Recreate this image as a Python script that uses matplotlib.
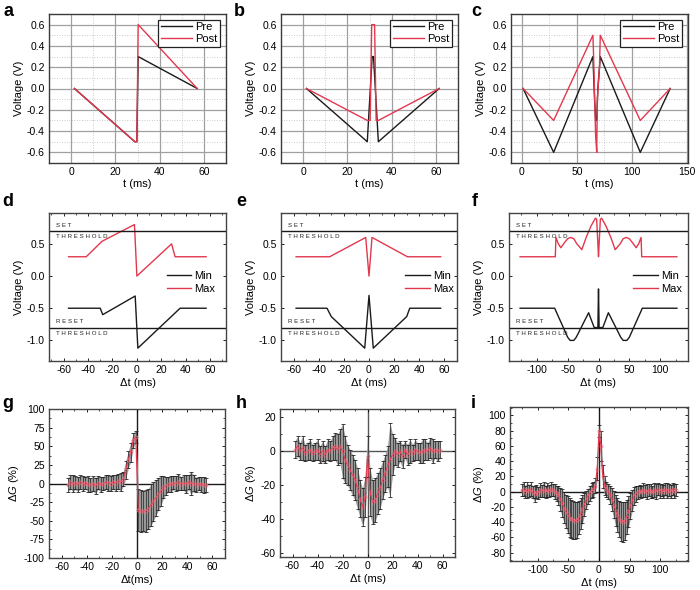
import matplotlib
matplotlib.use('Agg')
import matplotlib.pyplot as plt
from matplotlib.ticker import MultipleLocator, FormatStrFormatter

plt.rcParams['font.family'] = ['Liberation Sans', 'DejaVu Sans']
plt.rcParams['axes.unicode_minus'] = False
plt.rcParams['mathtext.fontset'] = 'custom'
plt.rcParams['mathtext.it'] = 'Liberation Sans:italic'
plt.rcParams['mathtext.rm'] = 'Liberation Sans'

RED = '#e2384d'
BLK = '#1a1a1a'

# ---------------- data: row 1 (pulses) ----------------
a_pre_t = [1.5, 28.8, 29.7, 30.3, 57]
a_pre_v = [0, -0.5, -0.5, 0.3, 0]
a_post_t = [1.5, 28.8, 29.7, 30.3, 57]
a_post_v = [0, -0.5, -0.5, 0.6, 0]

b_pre_t = [1.5, 29, 31.2, 31.8, 34, 61.5]
b_pre_v = [0, -0.5, 0.3, 0.3, -0.5, 0]
b_post_t = [1.5, 29, 30.3, 31, 32.3, 33, 34, 61.5]
b_post_v = [0, -0.3, -0.3, 0.6, 0.6, -0.3, -0.3, 0]

c_pre_t = [1, 28.8, 64.5, 66, 67, 68, 69, 70.5, 71.2, 107.6, 134.8]
c_pre_v = [0, -0.6, 0.3, -0.1, -0.3, -0.3, 0, 0.2, 0.3, -0.6, 0]
c_post_t = [1, 28.8, 64.5, 65, 67, 68, 68.5, 70.5, 71.2, 107.6, 134.8]
c_post_v = [0, -0.3, 0.5, 0.35, -0.45, -0.6, -0.1, 0.2, 0.5, -0.3, 0]

# ---------------- data: row 2 (min / max voltage) ----------------
d_max_t = [-56, -41.5, -28.6, -2, 0, 28.4, 31.3, 56.7]
d_max_v = [0.3, 0.3, 0.54, 0.8, 0.0, 0.5, 0.3, 0.3]
d_min_t = [-56, -30, -28, -1.4, 0.8, 35.4, 56.7]
d_min_v = [-0.5, -0.5, -0.6, -0.31, -1.12, -0.5, -0.5]

e_max_t = [-58, -31.3, -2.6, 0, 2.4, 30.6, 57]
e_max_v = [0.3, 0.3, 0.6, 0.0, 0.6, 0.3, 0.3]
e_min_t = [-58, -33.4, -30, -3.4, 0, 3.4, 30, 32.4, 57]
e_min_v = [-0.5, -0.5, -0.63, -1.12, -0.3, -1.12, -0.63, -0.5, -0.5]

f_max_t = [-127, -70, -69, -65, -61, -55, -50, -45, -40, -35, -27, -20, -12, -5, -3, -1, 0,
           1, 3, 5, 12, 20, 27, 35, 40, 45, 50, 55, 61, 65, 69, 70, 127]
f_max_v = [0.3, 0.3, 0.6, 0.5, 0.44, 0.52, 0.58, 0.6, 0.58, 0.5, 0.41, 0.6, 0.78, 0.9, 0.88, 0.5, 0.3,
           0.5, 0.88, 0.9, 0.78, 0.6, 0.41, 0.5, 0.58, 0.6, 0.58, 0.52, 0.44, 0.5, 0.6, 0.3, 0.3]
f_min_t = [-127, -71, -50, -46, -40, -36, -16, -7, -1, 0, 1, 7, 16, 36, 40, 46, 50, 71, 127]
f_min_v = [-0.5, -0.5, -0.95, -1.0, -1.0, -0.95, -0.57, -0.8, -0.8, -0.2, -0.8, -0.8, -0.57,
           -0.95, -1.0, -1.0, -0.95, -0.5, -0.5]

SET_TH = 0.7
RESET_TH = -0.8

# ---------------- data: row 3 (conductance change) ----------------
g_x = [-55, -53, -51, -49, -47, -45, -43, -41, -39, -37, -35, -33, -31, -29, -27, -25, -23, -21, -19, -17,
       -15, -13, -11, -9, -7, -5, -3, -1, 1, 3, 5, 7, 9, 11, 13, 15, 17, 19, 21, 23, 25, 27, 29, 31,
       33, 35, 37, 39, 41, 43, 45, 47, 49, 51, 53, 55]
g_mean = [-2, 2, 0, 1, -1, 2, 0, 1, -1, -2, 0, -3, 1, -1, 0, 2, 1, 0, 2, 1, 3, 2, 6, 18, 32, 42, 58, 63,
          -36, -37, -37, -37, -34, -29, -24, -19, -14, -10, -5, -3, -1, -1, 1, 0, 2, 0, 1, -1, 2, 0,
          1, -2, 0, -1, -2, -2]
g_err = [10, 9, 11, 9, 10, 9, 10, 8, 11, 9, 10, 11, 9, 10, 9, 10, 11, 10, 9, 11, 10, 12, 10, 12, 11, 13, 10, 8,
         28, 28, 27, 28, 27, 28, 26, 24, 22, 20, 15, 12, 10, 11, 9, 10, 11, 9, 10, 12, 10, 15, 11, 10, 9, 10,
         11, 9]

h_x = [-58, -56, -54, -52, -50, -48, -46, -44, -42, -40, -38, -36, -34, -32, -30, -28, -26, -24, -22, -20,
       -18, -16, -14, -12, -10, -8, -6, -4, -2, 0, 2, 4, 6, 8, 10, 12, 14, 16, 18, 20, 22, 24, 26, 28,
       30, 32, 34, 36, 38, 40, 42, 44, 46, 48, 50, 52, 54, 56, 58]
h_mean = [1, 3, 0, 2, -1, 0, 1, -1, 0, 1, -2, 0, -2, 1, 0, 2, 3, 1, 3, 0, -5, -8, -11, -14, -17, -22, -28,
          -33, -27, -3, -24, -30, -29, -25, -22, -17, -13, -9, -5, -2, 0, -2, 0, -3, 1, -2, 0, -1, 1, 0,
          -1, 0, 1, 0, 2, 0, 1, 0, 1]
h_err = [5, 6, 5, 7, 5, 5, 6, 5, 5, 6, 5, 6, 5, 6, 6, 7, 8,
         9, 10, 16, 14, 12, 12, 12, 12, 12, 11, 11, 12, 12, 14, 13, 13, 12, 12, 11, 11, 12, 22, 12, 8, 7,
         6, 7, 5, 6, 7, 5, 6, 5, 6, 7, 6, 5, 6, 7, 5, 6, 5]

i_x = [-126, -123, -120, -117, -114, -111, -108, -105, -102, -99, -96, -93, -90, -87, -84, -81, -78, -75,
       -72, -69, -66, -63, -60, -57, -54, -51, -48, -45, -42, -39, -36, -33, -30, -27, -24, -21, -18,
       -15, -12, -9, -6, -3, 0, 3, 6, 9, 12, 15, 18, 21, 24, 27, 30, 33, 36, 39, 42, 45, 48, 51, 54,
       57, 60, 63, 66, 69, 72, 75, 78, 81, 84, 87, 90, 93, 96, 99, 102, 105, 108, 111, 114, 117, 120,
       123, 126]
i_mean = [2, 3, 0, 2, 1, 3, -1, -3, 0, -2, 2, 1, 3, 0, 2, 1, 3, 2, 0,
          -2, -5, -10, -15, -21, -26, -30, -34, -36, -37, -38, -37, -34, -29, -23, -17, -11, -6, -2, 1,
          3, 8, 30, 80, 60, 20, 8, 3, 0, -4, -10, -17, -25, -31, -36, -39, -40, -38, -33, -26, -19,
          -12, -6, -3, -1, 1,
          0, 2, 1, 0, 2, 1, -1, 2, 0, 3, 1, 2, 0, 3, 1, 2, 0, 3, 1, 2]
i_err = [8, 9, 8, 10, 8, 9, 8, 10, 9, 8, 9, 8, 10, 8, 9, 8, 9, 8, 10,
         10, 12, 15, 18, 20, 22, 24, 25, 25, 25, 24, 24, 22, 20, 18, 15, 12, 10, 10, 10, 10, 10, 15, 8,
         20, 15, 12, 10, 10, 12, 15, 18, 20, 22, 24, 26, 26, 25, 22, 20, 17, 14, 12, 10, 9, 8,
         8, 9, 8, 10, 8, 9, 8, 9, 10, 8, 9, 8, 9, 8, 10, 8, 9, 8, 9, 8]

# ---------------- figure ----------------
W, H = 700, 590
fig = plt.figure(figsize=(W / 100, H / 100), dpi=100)


def axp(l, r, t, b):
    return fig.add_axes([l / W, 1 - b / H, (r - l) / W, (b - t) / H])


def letter(x, y, s):
    fig.text(x / W, 1 - y / H, s, fontsize=13, fontweight='bold', va='center', ha='left')


def spines(ax, color='#333333', lw=0.9):
    for sp in ax.spines.values():
        sp.set_color(color)
        sp.set_linewidth(lw)


def style_pulse(ax, xlim, xmaj, xmin):
    ax.set_xlim(*xlim)
    ax.set_ylim(-0.7, 0.7)
    ax.xaxis.set_major_locator(MultipleLocator(xmaj))
    ax.xaxis.set_minor_locator(MultipleLocator(xmin))
    ax.yaxis.set_major_locator(MultipleLocator(0.2))
    ax.yaxis.set_minor_locator(MultipleLocator(0.1))
    ax.yaxis.set_major_formatter(FormatStrFormatter('%.1f'))
    ax.grid(which='major', color='#a0a0a0', lw=0.9)
    ax.grid(which='minor', color='#b8b8b8', lw=0.6, ls=(0, (1, 2)))
    ax.set_axisbelow(True)
    ax.tick_params(which='both', length=0, labelsize=7.5, pad=3)
    spines(ax, '#3a3a3a', 1.0)
    ax.set_xlabel('t (ms)', fontsize=8, labelpad=1)
    ax.set_ylabel('Voltage (V)', fontsize=8, labelpad=2)
    ax.legend(loc='upper right', fontsize=8, frameon=True, fancybox=False, edgecolor='#222222',
              framealpha=1, handlelength=2.8, borderpad=0.25, labelspacing=0.15,
              borderaxespad=0.5, handletextpad=0.3)
    ax.get_legend().get_frame().set_linewidth(0.9)


# Row 1
ax = axp(49, 226, 14, 163)
ax.plot(a_pre_t, a_pre_v, color=BLK, lw=1, label='Pre')
ax.plot(a_post_t, a_post_v, color=RED, lw=1, label='Post')
style_pulse(ax, (-10, 70), 20, 10)
letter(3, 11, 'a')

ax = axp(281, 458, 14, 163)
ax.plot(b_pre_t, b_pre_v, color=BLK, lw=1, label='Pre')
ax.plot(b_post_t, b_post_v, color=RED, lw=1, label='Post')
style_pulse(ax, (-10, 70), 20, 10)
letter(234, 11, 'b')

ax = axp(511, 688, 14, 163)
ax.plot(c_pre_t, c_pre_v, color=BLK, lw=1, label='Pre')
ax.plot(c_post_t, c_post_v, color=RED, lw=1, label='Post')
style_pulse(ax, (-10, 151), 50, 25)
letter(471, 11, 'c')


def style_minmax(ax, xlim, xmaj, xmin, leg_x):
    ax.set_xlim(*xlim)
    ax.set_ylim(-1.32, 0.98)
    ax.xaxis.set_major_locator(MultipleLocator(xmaj))
    ax.xaxis.set_minor_locator(MultipleLocator(xmin))
    ax.yaxis.set_major_locator(MultipleLocator(0.5))
    ax.yaxis.set_major_formatter(FormatStrFormatter('%.1f'))
    ax.tick_params(which='both', direction='in', top=True, right=True, labelsize=7.5, pad=3)
    ax.tick_params(which='major', length=2.5, width=0.6)
    ax.tick_params(which='minor', length=1.5, width=0.5)
    spines(ax, '#444444', 1.0)
    ax.axhline(SET_TH, color=BLK, lw=1)
    ax.axhline(RESET_TH, color=BLK, lw=1)
    tr = ax.get_yaxis_transform()
    kw = dict(transform=tr, fontsize=4.4, ha='left', color='#222222')
    ax.text(0.04, SET_TH + 0.05, 'S E T', va='bottom', **kw)
    ax.text(0.04, SET_TH - 0.05, 'T H R E S H O L D', va='top', **kw)
    ax.text(0.04, RESET_TH + 0.05, 'R E S E T', va='bottom', **kw)
    ax.text(0.04, RESET_TH - 0.05, 'T H R E S H O L D', va='top', **kw)
    ax.set_xlabel('Δt (ms)', fontsize=8, labelpad=2)
    ax.set_ylabel('Voltage (V)', fontsize=8, labelpad=2)
    ax.legend(loc='center left', bbox_to_anchor=(leg_x, 0.53), fontsize=8, frameon=False,
              handlelength=2.2, labelspacing=0.25, handletextpad=0.3, borderaxespad=0)


ax = axp(49, 226, 213, 361)
ax.plot(d_min_t, d_min_v, color=BLK, lw=1, label='Min')
ax.plot(d_max_t, d_max_v, color=RED, lw=1, label='Max')
style_minmax(ax, (-72, 73), 20, 10, 0.64)
letter(2, 201, 'd')

ax = axp(281, 457, 213, 361)
ax.plot(e_min_t, e_min_v, color=BLK, lw=1, label='Min')
ax.plot(e_max_t, e_max_v, color=RED, lw=1, label='Max')
style_minmax(ax, (-70, 70), 20, 10, 0.68)
letter(236, 201, 'e')

ax = axp(509, 688, 213, 361)
ax.plot(f_min_t, f_min_v, color=BLK, lw=1, label='Min')
ax.plot(f_max_t, f_max_v, color=RED, lw=1, label='Max')
style_minmax(ax, (-145, 145), 50, 25, 0.67)
letter(472, 201, 'f')


def style_dg(ax, x, m, e, xlim, ylim, xmaj, xmin, ymaj, ymin, xlabel, zcolor=BLK):
    lo = [mi - ei for mi, ei in zip(m, e)]
    hi = [mi + ei for mi, ei in zip(m, e)]
    ax.axhline(0, color=zcolor, lw=1, zorder=1)
    ax.axvline(0, color=zcolor, lw=1, zorder=1)
    ax.fill_between(x, lo, hi, color='#999999', lw=0, zorder=2)
    ax.errorbar(x, m, yerr=e, fmt='none', ecolor='#222222', elinewidth=0.5, capsize=1.6,
                capthick=0.6, zorder=3)
    ax.plot(x, m, color=RED, lw=0.8, marker='o', ms=2.2, mfc='none', mec='#f07080', mew=0.5, zorder=4)
    ax.set_xlim(*xlim)
    ax.set_ylim(*ylim)
    ax.xaxis.set_major_locator(MultipleLocator(xmaj))
    ax.xaxis.set_minor_locator(MultipleLocator(xmin))
    ax.yaxis.set_major_locator(MultipleLocator(ymaj))
    ax.yaxis.set_minor_locator(MultipleLocator(ymin))
    ax.tick_params(which='both', direction='in', top=True, right=True, labelsize=7.5, pad=3)
    ax.tick_params(which='major', length=2.5, width=0.6)
    ax.tick_params(which='minor', length=1.5, width=0.5)
    spines(ax, '#444444', 1.0)
    ax.set_xlabel(xlabel, fontsize=8, labelpad=2)
    ax.set_ylabel('Δ$\\it{G}$ (%)', fontsize=8, labelpad=2)


ax = axp(49, 225, 409, 558)
style_dg(ax, g_x, g_mean, g_err, (-70, 70), (-100, 100), 20, 10, 25, 12.5, 'Δt(ms)')
letter(2, 404, 'g')

ax = axp(280, 455, 409, 557)
style_dg(ax, h_x, h_mean, h_err, (-70, 70), (-62.5, 25), 20, 10, 20, 10, 'Δt (ms)', zcolor='#555555')
letter(236, 404, 'h')

ax = axp(510, 688, 407, 561)
style_dg(ax, i_x, i_mean, i_err, (-145, 145), (-91, 111), 50, 25, 20, 10, 'Δt (ms)')
letter(471, 404, 'i')

fig.savefig('out.png', dpi=100)
